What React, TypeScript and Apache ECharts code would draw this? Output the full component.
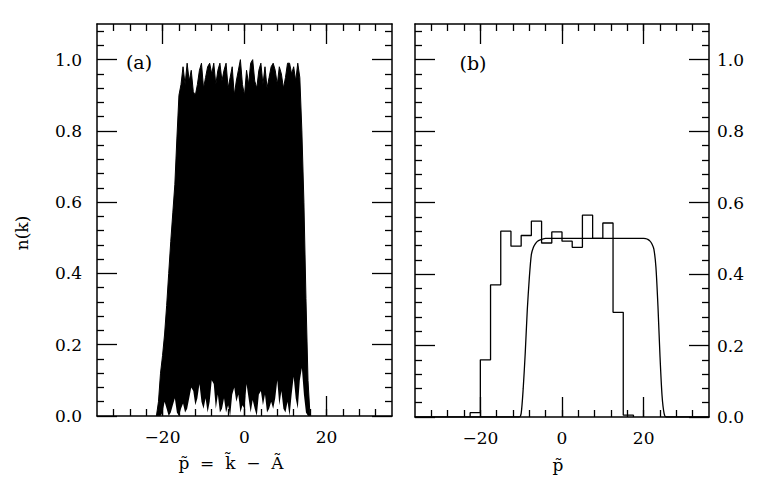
import React, { useEffect, useRef } from 'react';
import * as echarts from 'echarts';

// ---- panel (a): envelope of the rapidly oscillating n(k), sampled every P_STEP in p~
const P_START = -21.5;
const P_STEP = 0.5;
const upperA = [
  0, 0.04, 0.12, 0.17, 0.23, 0.31, 0.4, 0.49, 0.57, 0.65, 0.78, 0.9, 0.93, 0.98,
  0.93, 0.99, 0.94, 0.97, 0.91, 0.9, 0.93, 0.97, 0.99, 0.92, 0.95, 0.98, 0.99, 0.96,
  0.99, 0.93, 0.97, 0.99, 0.94, 0.97, 0.99, 0.92, 0.95, 0.98, 0.9, 0.94, 0.97, 1.0,
  0.93, 0.9, 0.97, 0.93, 0.99, 1.0, 0.94, 0.92, 0.97, 0.99, 0.93, 0.98, 0.92, 0.95,
  0.98, 0.99, 0.97, 0.93, 0.98, 0.96, 0.92, 0.95, 0.99, 0.99, 0.96, 0.98, 0.94, 0.99,
  0.95, 0.8, 0.6, 0.33, 0.1, 0.0,
];
const lowerA = [
  0, 0, 0, 0.01, 0.04, 0.02, 0, 0.01, 0.03, 0.05, 0.01, 0, 0.02, 0.035,
  0.01, 0.02, 0.05, 0.08, 0.07, 0.03, 0.05, 0.09, 0.04, 0.02, 0.05, 0.01, 0.04, 0.1,
  0.09, 0.02, 0.06, 0.01, 0.02, 0.05, 0.01, 0.03, 0, 0.06, 0.08, 0.04, 0.06, 0.01,
  0.03, 0.02, 0.09, 0.05, 0.01, 0.045, 0.02, 0, 0.06, 0.07, 0.03, 0.06, 0.01, 0.02,
  0.04, 0.02, 0.05, 0.1, 0.03, 0.07, 0.02, 0.01, 0.04, 0, 0.06, 0.11, 0.05, 0.02,
  0.1, 0.135, 0.06, 0.01, 0, 0,
];

// ---- panel (b): histogram (bin edges, bin heights) and smooth curve
const histEdges = [-22.5, -20, -17.5, -15, -12.5, -10, -7.5, -5, -2.5, 0, 2.5, 5, 7.5, 10, 12.5, 15, 17.5];
const histValues = [0.012, 0.16, 0.37, 0.52, 0.478, 0.508, 0.548, 0.487, 0.518, 0.492, 0.475, 0.565, 0.5, 0.543, 0.293, 0.005];
const curveP = [-36, -10.5, -10, -9.5, -9, -8.5, -8, -7.5, -7, -6.5, -6, -5, -4, 0, 10, 20, 20.5, 21, 21.5, 22, 22.5, 23, 23.5, 24, 24.5, 25, 25.5, 36];
const curveN = [0, 0, 0.01, 0.08, 0.18, 0.3, 0.39, 0.455, 0.475, 0.485, 0.492, 0.497, 0.5, 0.5, 0.5, 0.5, 0.499, 0.497, 0.493, 0.485, 0.47, 0.42, 0.31, 0.17, 0.06, 0.01, 0, 0];

// ---- axes
const X_MIN = -36;
const X_MAX = 36;
const Y_MIN = 0;
const Y_MAX = 1.1;
const xMajor = [-20, 0, 20];
const xMinor = [-32, -28, -24, -20, -16, -12, -8, -4, 0, 4, 8, 12, 16, 20, 24, 28, 32];
const yMajor = [0, 0.2, 0.4, 0.6, 0.8, 1.0];
const yMinor = [0.04, 0.08, 0.12, 0.16, 0.24, 0.28, 0.32, 0.36, 0.44, 0.48, 0.52, 0.56, 0.64, 0.68, 0.72, 0.76, 0.84, 0.88, 0.92, 0.96, 1.04, 1.08];

const FONT = 'DejaVu Serif';
const INK = '#000';
const AXIS_Z = 10;

function xAxesFor(grid: number) {
  const base = {
    type: 'value' as const,
    gridIndex: grid,
    min: X_MIN,
    max: X_MAX,
    z: AXIS_Z,
    splitLine: { show: false },
  };
  const line = { show: true, onZero: false, lineStyle: { color: INK, width: 1.5 } };
  const noLine = { show: false, onZero: false };
  const tick = (len: number, vals: number[]) => ({ inside: true, length: len, customValues: vals, lineStyle: { color: INK, width: 1.3 } });
  const label = {
    show: true,
    customValues: xMajor,
    margin: 12,
    color: INK,
    fontFamily: FONT,
    fontSize: 17,
    formatter: (v: number) => (v < 0 ? '\u2212' + Math.abs(v) : String(v)),
  };
  return [
    { ...base, position: 'bottom', axisLine: line, axisTick: tick(20, xMajor), axisLabel: label },
    { ...base, position: 'bottom', axisLine: noLine, axisTick: tick(7, xMinor), axisLabel: { show: false } },
    { ...base, position: 'top', axisLine: line, axisTick: tick(20, xMajor), axisLabel: { show: false } },
    { ...base, position: 'top', axisLine: noLine, axisTick: tick(7, xMinor), axisLabel: { show: false } },
  ];
}

function yAxesFor(grid: number, labelSide: 'left' | 'right') {
  const base = {
    type: 'value' as const,
    gridIndex: grid,
    min: Y_MIN,
    max: Y_MAX,
    z: AXIS_Z,
    splitLine: { show: false },
  };
  const line = { show: true, onZero: false, lineStyle: { color: INK, width: 1.5 } };
  const noLine = { show: false, onZero: false };
  const tick = (len: number, vals: number[]) => ({ inside: true, length: len, customValues: vals, lineStyle: { color: INK, width: 1.3 } });
  const label = {
    show: true,
    customValues: yMajor,
    margin: labelSide === 'left' ? 15 : 8,
    color: INK,
    fontFamily: FONT,
    fontSize: 17,
    formatter: (v: number) => v.toFixed(1),
  };
  return [
    { ...base, position: 'left', axisLine: line, axisTick: tick(20, yMajor), axisLabel: labelSide === 'left' ? label : { show: false } },
    { ...base, position: 'left', axisLine: noLine, axisTick: tick(7, yMinor), axisLabel: { show: false } },
    { ...base, position: 'right', axisLine: line, axisTick: tick(20, yMajor), axisLabel: labelSide === 'right' ? label : { show: false } },
    { ...base, position: 'right', axisLine: noLine, axisTick: tick(7, yMinor), axisLabel: { show: false } },
  ];
}

export default function App() {
  const ref = useRef<HTMLDivElement>(null);

  useEffect(() => {
    if (!ref.current) return;
    const chart = echarts.init(ref.current, undefined, { renderer: 'svg' });

    const pA = upperA.map((_, i) => P_START + i * P_STEP);
    const upperData = pA.map((p, i) => [p, upperA[i]]);
    const lowerData = pA.map((p, i) => [p, lowerA[i]]);

    const histData: number[][] = [[histEdges[0], 0]];
    histValues.forEach((v, i) => {
      histData.push([histEdges[i], v]);
      histData.push([histEdges[i + 1], v]);
    });
    histData.push([histEdges[histEdges.length - 1], 0]);

    const curveData = curveP.map((p, i) => [p, curveN[i]]);

    chart.setOption({
      animation: false,
      backgroundColor: '#fff',
      grid: [
        { left: 97, top: 24, width: 295, height: 392, outerBoundsMode: 'none', containLabel: false },
        { left: 415, top: 24, width: 294, height: 393, outerBoundsMode: 'none', containLabel: false },
      ],
      xAxis: [...xAxesFor(0), ...xAxesFor(1)],
      yAxis: [...yAxesFor(0, 'left'), ...yAxesFor(1, 'right')],
      series: [
        {
          type: 'line',
          name: 'n(k) upper',
          xAxisIndex: 0,
          yAxisIndex: 0,
          z: 2,
          data: upperData,
          symbol: 'none',
          lineStyle: { color: INK, width: 1 },
          areaStyle: { color: INK, opacity: 1 },
          silent: true,
        },
        {
          type: 'line',
          name: 'n(k) lower',
          xAxisIndex: 0,
          yAxisIndex: 0,
          z: 3,
          data: lowerData,
          symbol: 'none',
          lineStyle: { width: 0, opacity: 0 },
          areaStyle: { color: '#fff', opacity: 1 },
          silent: true,
        },
        {
          type: 'line',
          name: 'histogram',
          xAxisIndex: 4,
          yAxisIndex: 4,
          data: histData,
          symbol: 'none',
          lineStyle: { color: INK, width: 1.3 },
          silent: true,
        },
        {
          type: 'line',
          name: 'curve',
          xAxisIndex: 4,
          yAxisIndex: 4,
          data: curveData,
          symbol: 'none',
          smooth: 0.25,
          lineStyle: { color: INK, width: 1.3 },
          silent: true,
        },
      ],
      graphic: [
        { type: 'text', x: 139, y: 62, style: { text: '(a)', fontFamily: FONT, fontSize: 19, fill: INK, textAlign: 'center', textVerticalAlign: 'middle' } },
        { type: 'text', x: 473, y: 63, style: { text: '(b)', fontFamily: FONT, fontSize: 19, fill: INK, textAlign: 'center', textVerticalAlign: 'middle' } },
        { type: 'text', x: 22, y: 233, rotation: Math.PI / 2, style: { text: 'n(k)', fontFamily: FONT, fontSize: 17, fill: INK, textAlign: 'center', textVerticalAlign: 'middle' } },
        { type: 'text', x: 231, y: 463, style: { text: 'p\u0303  =  k\u0303  \u2212  \u00C3', fontFamily: FONT, fontSize: 17, fill: INK, textAlign: 'center', textVerticalAlign: 'middle' } },
        { type: 'text', x: 558, y: 465, style: { text: 'p\u0303', fontFamily: FONT, fontSize: 17, fill: INK, textAlign: 'center', textVerticalAlign: 'middle' } },
      ],
    });

    return () => chart.dispose();
  }, []);

  return <div ref={ref} style={{ position: 'fixed', left: 0, top: 0, width: 763, height: 493 }} />;
}
